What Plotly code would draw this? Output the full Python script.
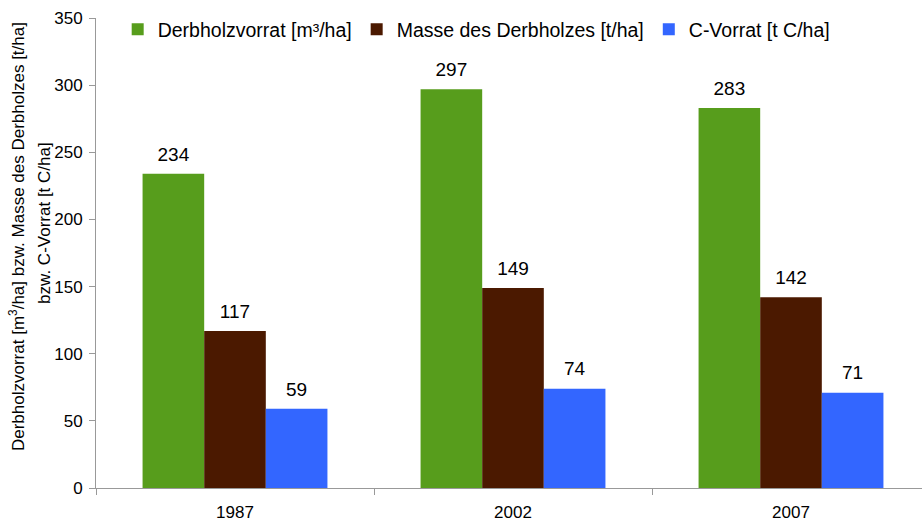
import plotly.graph_objects as go

years = ['1987', '2002', '2007']
derbholzvorrat = [234, 297, 283]
masse = [117, 149, 142]
c_vorrat = [59, 74, 71]

series = [
    ('Derbholzvorrat [m³/ha]', derbholzvorrat, '#579D1C'),
    ('Masse des Derbholzes [t/ha]', masse, '#4B1900'),
    ('C-Vorrat [t C/ha]', c_vorrat, '#3366FF'),
]

font = 'Arial, Liberation Sans, sans-serif'

fig = go.Figure()
for name, vals, color in series:
    fig.add_trace(go.Bar(
        x=years, y=vals, name=name,
        marker=dict(color=color, line_width=0),
        cliponaxis=False,
    ))

# Werte-Beschriftung: unsichtbare Punkte, gruppiert wie die Balken
for name, vals, color in series:
    fig.add_trace(go.Scatter(
        x=years, y=vals, mode='markers+text',
        text=[str(v) for v in vals],
        textposition='top center',
        textfont=dict(size=19, color='black', family=font),
        marker=dict(size=12, opacity=0),
        showlegend=False, hoverinfo='skip', cliponaxis=False,
    ))

# y-Achsentitel als zwei gedrehte Zeilen
fig.add_annotation(
    text='Derbholzvorrat [m<sup>3</sup>/ha] bzw. Masse des Derbholzes [t/ha]',
    xref='paper', yref='paper', x=-0.0947, y=0.534,
    xanchor='center', yanchor='middle',
    textangle=-90, showarrow=False, font=dict(size=17),
)
fig.add_annotation(
    text='bzw. C-Vorrat [t C/ha]',
    xref='paper', yref='paper', x=-0.0612, y=0.564,
    xanchor='center', yanchor='middle',
    textangle=-90, showarrow=False, font=dict(size=17),
)

# Zeichenfläche ragt im Original etwas über den rechten Rand hinaus
fig.update_layout(
    barmode='group',
    bargap=0.335,
    bargroupgap=0,
    scattermode='group',
    scattergap=0.335,
    width=930, height=521,
    margin=dict(l=96, r=0, t=18, b=33),
    paper_bgcolor='white',
    plot_bgcolor='white',
    font=dict(family=font, color='black'),
    showlegend=True,
    legend=dict(
        orientation='h', x=0.026, xanchor='left', y=1.017, yanchor='top',
        font=dict(size=19.5),
        bgcolor='rgba(0,0,0,0)',
        itemwidth=30,
        traceorder='normal',
    ),
    xaxis=dict(
        type='category', automargin=False,
        showline=True, linecolor='#999999', linewidth=1,
        ticks='outside', tickson='boundaries', ticklen=6, tickcolor='#999999',
        tickfont=dict(size=17), ticklabelstandoff=9,
        showgrid=False,
    ),
    yaxis=dict(
        range=[0, 350], dtick=50, automargin=False,
        showline=True, linecolor='#999999', linewidth=1,
        ticks='outside', ticklen=6, tickcolor='#999999',
        tickfont=dict(size=17), ticklabelstandoff=3,
        showgrid=False, zeroline=False,
    ),
)

# Body-Rand entfernen und Überstand abschneiden
fig.write_html('out.html', config={'displayModeBar': False},
               post_script="document.body.style.margin='0';"
                           "document.body.style.overflow='hidden';")
